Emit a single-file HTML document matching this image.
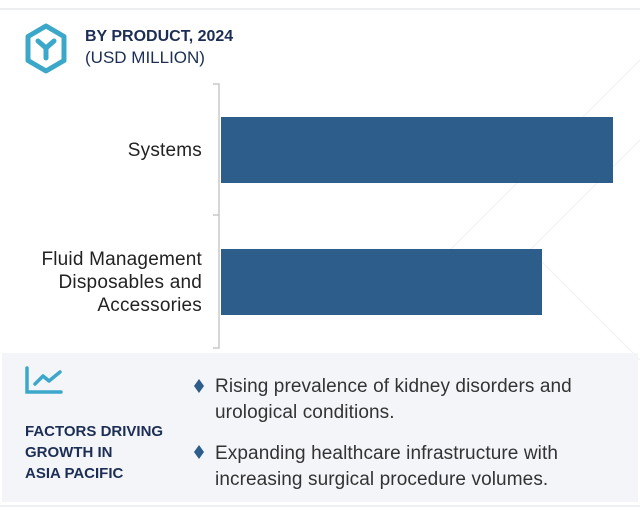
<!DOCTYPE html>
<html><head><meta charset="utf-8"><style>
*{margin:0;padding:0;box-sizing:border-box}
body{width:640px;height:514px;background:#fff;position:relative;overflow:hidden;font-family:"Liberation Sans",Arial,sans-serif}
.a{position:absolute}
</style></head><body>
<div class="a" style="left:0;top:8px;width:640px;height:2px;background:#eeeff1"></div>
<svg class="a" style="left:0;top:0" width="640" height="514">
<g stroke="#eff0f2" stroke-width="1" fill="none">
<line x1="640" y1="60" x2="450" y2="250"/>
<line x1="640" y1="140" x2="520" y2="260"/>
<line x1="540" y1="260" x2="640" y2="360"/>
</g>
<polygon points="46,26 64,36.5 64,60.5 46,71 28,60.5 28,36.5" fill="none" stroke="#3ca8c9" stroke-width="5" stroke-linejoin="round"/>
<path d="M38,41 L46,48 L54,41 M46,48 L46,58" fill="none" stroke="#3ca8c9" stroke-width="5" stroke-linecap="round"/>
<path d="M213,84 H219 V348 H213 M213,215 H219" fill="none" stroke="#c8c8c8" stroke-width="1.5"/>
<rect x="221" y="117" width="392" height="66" fill="#2d5d8a"/>
<rect x="221" y="249" width="321" height="66" fill="#2d5d8a"/>
</svg>
<div class="a" style="left:85px;top:28px;font-size:16px;font-weight:bold;color:#1d2e55">BY PRODUCT, 2024</div>
<div class="a" style="left:85px;top:48px;font-size:17px;color:#1d2e55">(USD MILLION)</div>
<div class="a" style="left:0;top:140px;width:202px;text-align:right;font-size:19px;letter-spacing:0.2px;color:#222">Systems</div>
<div class="a" style="left:0;top:248px;width:202px;text-align:right;font-size:19px;letter-spacing:0.2px;line-height:23px;color:#222">Fluid Management<br>Disposables and<br>Accessories</div>
<div class="a" style="left:2px;top:353px;width:636px;height:149px;background:#f3f5f9"></div>
<svg class="a" style="left:24px;top:366px" width="40" height="30">
<path d="M3,2 V26 H37" fill="none" stroke="#3ca8c9" stroke-width="3.5" stroke-linecap="round"/>
<path d="M11,18 L19,10 L25,15 L36,6" fill="none" stroke="#3ca8c9" stroke-width="3.5" stroke-linecap="round" stroke-linejoin="round"/>
</svg>
<div class="a" style="left:25px;top:421px;font-size:15px;font-weight:bold;line-height:21px;color:#1d2e55">FACTORS DRIVING<br>GROWTH IN<br>ASIA PACIFIC</div>
<svg class="a" style="left:193px;top:378px" width="12" height="16"><polygon points="6,1 11,8 6,15 1,8" fill="#2d5d8a"/></svg>
<svg class="a" style="left:193px;top:444px" width="12" height="16"><polygon points="6,1 11,8 6,15 1,8" fill="#2d5d8a"/></svg>
<div class="a" style="left:215px;top:374px;font-size:19px;letter-spacing:0.1px;line-height:26px;color:#333">Rising prevalence of kidney disorders and<br>urological conditions.</div>
<div class="a" style="left:215px;top:441px;font-size:19px;letter-spacing:0.1px;line-height:26px;color:#333">Expanding healthcare infrastructure with<br>increasing surgical procedure volumes.</div>
<div class="a" style="left:0;top:505px;width:640px;height:2px;background:#eeeff1"></div>
</body></html>
